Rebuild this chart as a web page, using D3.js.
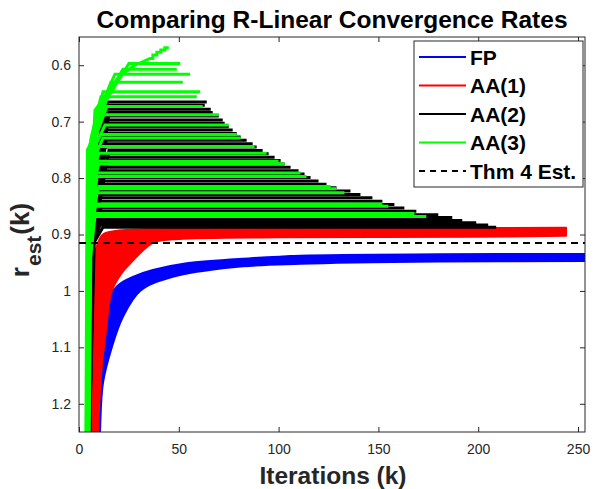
<!DOCTYPE html>
<html>
<head>
<meta charset="utf-8">
<script src="https://cdn.jsdelivr.net/npm/d3@7"></script>
<style>
  body { margin: 0; background: #fff; }
  svg { display: block; font-family: "Liberation Sans", Arial, Helvetica, sans-serif; }
</style>
</head>
<body>
<div id="root"></div>
<script>
// axis ticks
const xTicks = [0, 50, 100, 150, 200, 250];
const yTicks = [0.6, 0.7, 0.8, 0.9, 1, 1.1, 1.2];
const yTickLabels = ['0.6', '0.7', '0.8', '0.9', '1', '1.1', '1.2'];

// FP runs drawn as a band: smallest and largest r_est over the runs, [k, r]
const fpUpper = [[4.8, 1.3], [5.2, 1.25], [7.6, 1.2], [10.5, 1.1], [12.5, 1.05], [14.3, 1.02], [16.5, 1.003], [19, 0.992], [22, 0.984], [27, 0.975], [37, 0.963], [54, 0.951], [86, 0.942], [111, 0.9375], [180, 0.935], [254, 0.9346]];
const fpLower = [[10, 1.3], [10.5, 1.25], [12, 1.163], [16.4, 1.1], [22, 1.046], [30.6, 1.0], [47, 0.975], [77, 0.958], [111, 0.952], [180, 0.948], [254, 0.947]];

// AA(1) runs, same idea
const aa1Upper = [[5, 1.3], [5.5, 1.1], [7, 0.96], [9, 0.92], [12, 0.9], [20, 0.893], [60, 0.89], [150, 0.889], [244, 0.888]];
const aa1Lower = [[9, 1.3], [11, 1.15], [13.5, 1.07], [16.4, 1.0], [21.4, 0.968], [24.6, 0.955], [30, 0.935], [34, 0.922], [38, 0.913], [50, 0.908], [100, 0.905], [200, 0.904], [244, 0.902]];

// AA(2) runs: [k leaving bottom, k at r=0.92, k at plateau, plateau r, last k]
const aa2Runs = [
  [5.0, 6.6, 12, 0.887, 209], [4.7, 6.1, 10, 0.883, 205], [5.1, 6.8, 11, 0.879, 199],
  [4.8, 6.4, 10, 0.875, 192], [4.5, 5.9, 9, 0.870, 187], [4.9, 6.6, 10, 0.865, 180],
  [4.7, 6.2, 9, 0.859, 169], [5.1, 7.0, 11, 0.853, 163], [4.6, 6.0, 10, 0.847, 158],
  [4.9, 6.5, 9, 0.841, 152], [4.7, 6.1, 10, 0.835, 147], [5.0, 6.6, 9, 0.829, 141],
  [4.8, 6.4, 11, 0.823, 136], [4.6, 6.1, 10, 0.817, 129], [4.9, 6.6, 9, 0.811, 124],
  [4.7, 6.2, 12, 0.805, 120], [5.0, 6.7, 10, 0.799, 116], [4.7, 6.0, 11, 0.793, 113],
  [5.1, 6.9, 13, 0.787, 110], [4.8, 6.5, 12, 0.781, 106], [4.5, 5.9, 10, 0.775, 103],
  [4.9, 6.6, 14, 0.769, 101], [4.7, 6.3, 12, 0.763, 98], [5.0, 6.8, 13, 0.757, 95],
  [4.6, 6.0, 15, 0.751, 92], [5.0, 7.2, 12, 0.745, 89], [4.7, 6.2, 11, 0.739, 87],
  [4.8, 6.4, 13, 0.733, 84], [4.5, 6.0, 12, 0.727, 81], [4.9, 6.6, 14, 0.721, 79],
  [4.7, 6.3, 12, 0.715, 77], [5.0, 6.8, 13, 0.709, 75], [4.6, 6.1, 11, 0.703, 73],
  [5.0, 6.7, 13, 0.697, 72], [4.7, 6.2, 12, 0.690, 70], [4.8, 6.5, 15, 0.684, 67],
  [4.5, 5.9, 13, 0.678, 66], [4.9, 6.6, 12, 0.671, 63], [5.0, 7.6, 14, 0.665, 64]
];

// AA(3) runs, one polyline each, [k, r]
const aa3Runs = [
  [[4.5, 1.3], [5.5, 0.95], [8, 0.868], [174, 0.868]],
  [[4.2, 1.3], [5.2, 0.96], [7, 0.863], [168, 0.863]],
  [[4.4, 1.3], [5.4, 0.94], [8, 0.85], [155, 0.85]],
  [[4.6, 1.3], [5.6, 0.92], [7, 0.846], [152, 0.846]],
  [[4.3, 1.3], [5.3, 0.93], [9, 0.826], [133, 0.826]],
  [[4.7, 1.3], [5.7, 0.91], [8, 0.819], [129, 0.819]],
  [[4.1, 1.3], [5, 0.94], [6.5, 0.85], [10, 0.815], [126, 0.815]],
  [[4.5, 1.3], [5.5, 0.92], [9, 0.797], [114, 0.797]],
  [[4.9, 1.3], [6, 0.9], [8, 0.791], [111, 0.791]],
  [[4.2, 1.3], [5.1, 0.93], [6.5, 0.82], [10, 0.775], [103, 0.775]],
  [[4.6, 1.3], [5.6, 0.9], [9, 0.77], [100, 0.77]],
  [[4.4, 1.3], [5.3, 0.91], [7, 0.79], [10, 0.756], [94, 0.756]],
  [[3.8, 1.3], [4.5, 0.93], [5.5, 0.8], [9, 0.744], [88, 0.744]],
  [[4.3, 1.3], [5.1, 0.92], [6, 0.78], [12, 0.729], [81, 0.729]],
  [[3.6, 1.3], [4.2, 0.9], [4.5, 0.76], [11, 0.723], [79, 0.723]],
  [[4.1, 1.3], [4.9, 0.9], [6, 0.76], [13, 0.706], [75, 0.706]],
  [[3.4, 1.3], [3.9, 0.92], [4.2, 0.75], [7, 0.73], [12, 0.688], [70, 0.688]],
  [[4.5, 1.3], [5.3, 0.9], [7, 0.74], [14, 0.673], [62, 0.673]],
  [[3.9, 1.3], [4.6, 0.9], [6, 0.73], [11, 0.656], [59, 0.656]],
  [[4.8, 1.3], [5.8, 0.88], [8, 0.72], [12, 0.647], [60.7, 0.647]],
  [[4.2, 1.3], [5, 0.9], [6.5, 0.74], [9, 0.7], [16, 0.63], [52, 0.63]],
  [[3.7, 1.3], [4.4, 0.9], [5.5, 0.74], [10, 0.68], [18, 0.616], [55.7, 0.616]],
  [[4.6, 1.3], [5.5, 0.88], [7.5, 0.74], [12, 0.67], [22, 0.607], [49, 0.607]],
  [[4, 1.3], [4.8, 0.9], [7, 0.74], [11, 0.69], [14, 0.66], [25, 0.597], [50.7, 0.597]],
  [[4.4, 1.3], [5.2, 0.9], [7, 0.75], [8, 0.68], [12, 0.66], [16, 0.64], [20, 0.62], [28, 0.6], [35.6, 0.588], [37, 0.588], [37, 0.582], [39, 0.582], [39, 0.577], [41, 0.577], [41, 0.573], [43, 0.573], [43, 0.569], [45, 0.569]]
];

const thmEst = 0.915;

const legendItems = [
  { label: 'FP', color: '#0000ff', dash: null },
  { label: 'AA(1)', color: '#ff0000', dash: null },
  { label: 'AA(2)', color: '#000000', dash: null },
  { label: 'AA(3)', color: '#00ff00', dash: null },
  { label: 'Thm 4 Est.', color: '#000000', dash: '6,5' }
];

const width = 594;
const height = 489;
const plot = { left: 79, right: 585, top: 37, bottom: 432 };
const axisColor = '#262626';

const x = d3.scaleLinear().domain([0, 253.5]).range([plot.left, plot.right]);
const y = d3.scaleLinear().domain([0.55, 1.25]).range([plot.top, plot.bottom]);

const svg = d3.select('#root')
  .append('svg')
  .attr('width', width)
  .attr('height', height);

svg.append('rect').attr('width', width).attr('height', height).attr('fill', '#fff');

svg.append('clipPath').attr('id', 'plotClip')
  .append('rect')
  .attr('x', plot.left).attr('y', plot.top)
  .attr('width', plot.right - plot.left).attr('height', plot.bottom - plot.top);

const marks = svg.append('g').attr('clip-path', 'url(#plotClip)');
const line = d3.line().x(d => x(d[0])).y(d => y(d[1]));
const smooth = d3.line().x(d => x(d[0])).y(d => y(d[1])).curve(d3.curveCatmullRom);

// band = upper edge then lower edge walked back
const band = (upper, lower, color) => {
  const d = smooth(upper) + smooth(lower.slice().reverse()).replace(/^M/, 'L') + 'Z';
  marks.append('path')
    .attr('d', d)
    .attr('fill', color)
    .attr('stroke', color)
    .attr('stroke-width', 2)
    .attr('stroke-linejoin', 'round');
};

const run = (pts, color) => {
  marks.append('path')
    .attr('d', line(pts))
    .attr('fill', 'none')
    .attr('stroke', color)
    .attr('stroke-width', 3);
};

band(fpUpper, fpLower, '#0000ff');
band(aa1Upper, aa1Lower, '#ff0000');

aa2Runs.forEach(([k0, kMid, kTop, r, kEnd]) => {
  run([[k0, 1.3], [kMid, 0.92], [kTop, r], [kEnd, r]], '#000000');
});
aa3Runs.forEach(pts => run(pts, '#00ff00'));

marks.append('line')
  .attr('x1', plot.left).attr('x2', plot.right)
  .attr('y1', y(thmEst)).attr('y2', y(thmEst))
  .attr('stroke', '#000')
  .attr('stroke-width', 2)
  .attr('stroke-dasharray', '7,5');

// axes, MATLAB box style with inward ticks
const styleAxis = g => {
  g.select('.domain').remove();
  g.selectAll('.tick line').attr('stroke', axisColor);
  g.selectAll('.tick text').attr('fill', axisColor).attr('font-size', 14);
};

svg.append('g')
  .attr('transform', `translate(0,${plot.bottom})`)
  .call(d3.axisBottom(x).tickValues(xTicks).tickSize(-5).tickPadding(12))
  .call(styleAxis);

svg.append('g')
  .attr('transform', `translate(0,${plot.top})`)
  .call(d3.axisTop(x).tickValues(xTicks).tickSize(-5).tickFormat(''))
  .call(styleAxis);

svg.append('g')
  .attr('transform', `translate(${plot.left},0)`)
  .call(d3.axisLeft(y).tickValues(yTicks).tickSize(-5).tickPadding(8)
    .tickFormat((d, i) => yTickLabels[i]))
  .call(styleAxis);

svg.append('g')
  .attr('transform', `translate(${plot.right},0)`)
  .call(d3.axisRight(y).tickValues(yTicks).tickSize(-5).tickFormat(''))
  .call(styleAxis);

svg.append('rect')
  .attr('x', plot.left).attr('y', plot.top)
  .attr('width', plot.right - plot.left).attr('height', plot.bottom - plot.top)
  .attr('fill', 'none')
  .attr('stroke', axisColor)
  .attr('stroke-width', 1);

// legend
const lg = { x: 414, y: 41, w: 169, h: 146, row: 28.5 };
const legend = svg.append('g');
legend.append('rect')
  .attr('x', lg.x).attr('y', lg.y).attr('width', lg.w).attr('height', lg.h)
  .attr('fill', '#fff').attr('stroke', axisColor).attr('stroke-width', 1);

legendItems.forEach((item, i) => {
  const cy = lg.y + 16 + i * lg.row;
  legend.append('line')
    .attr('x1', lg.x + 5).attr('x2', lg.x + 52)
    .attr('y1', cy).attr('y2', cy)
    .attr('stroke', item.color)
    .attr('stroke-width', 2)
    .attr('stroke-dasharray', item.dash);
  legend.append('text')
    .attr('x', lg.x + 56).attr('y', cy + 7.5)
    .attr('font-size', 21)
    .attr('font-weight', 'bold')
    .attr('fill', '#000')
    .text(item.label);
});

// title and axis labels
svg.append('text')
  .attr('x', (plot.left + plot.right) / 2).attr('y', 28)
  .attr('text-anchor', 'middle')
  .attr('font-size', 24.5).attr('font-weight', 'bold')
  .attr('fill', '#000')
  .text('Comparing R-Linear Convergence Rates');

svg.append('text')
  .attr('x', 333).attr('y', 484)
  .attr('text-anchor', 'middle')
  .attr('font-size', 24.5).attr('font-weight', 'bold')
  .attr('fill', axisColor)
  .text('Iterations (k)');

const yl = svg.append('text')
  .attr('transform', 'translate(28.5,240) rotate(-90)')
  .attr('text-anchor', 'middle')
  .attr('font-size', 26).attr('font-weight', 'bold')
  .attr('fill', axisColor);
yl.append('tspan').text('r');
yl.append('tspan').attr('dx', 1).attr('dy', 12).attr('font-size', 21).text('est');
yl.append('tspan').attr('dx', 1).attr('dy', -12).text('(k)');
</script>
</body>
</html>
